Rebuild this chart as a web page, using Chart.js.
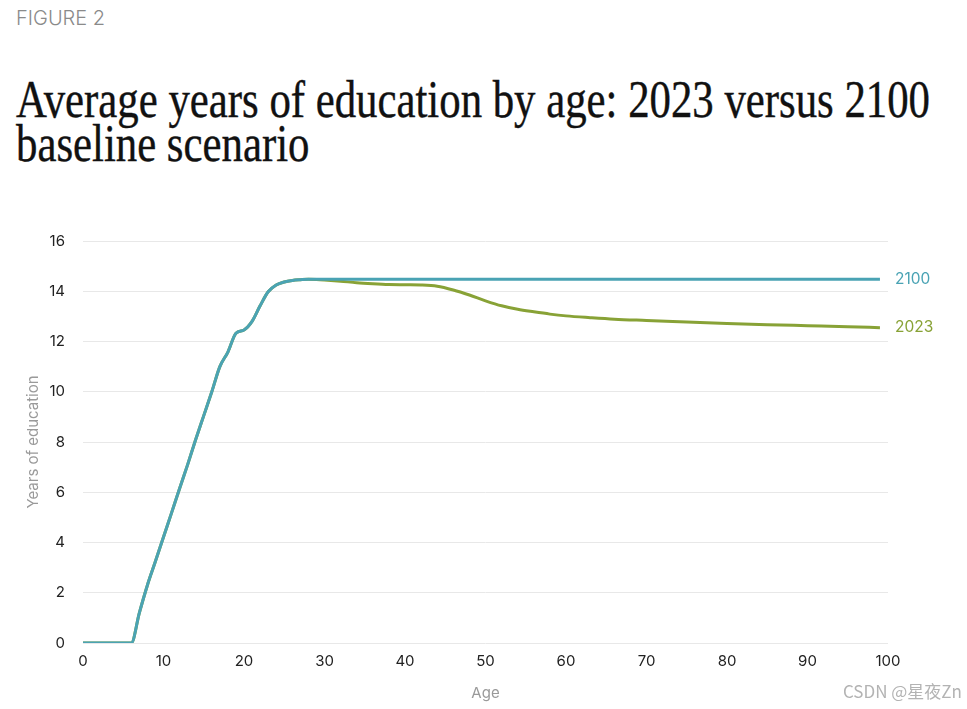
<!DOCTYPE html>
<html>
<head>
<meta charset="utf-8">
<script src="https://cdn.jsdelivr.net/npm/chart.js@4.4.1/dist/chart.umd.min.js"></script>
<style>
  html, body { margin: 0; padding: 0; background: #ffffff; }
  body { width: 967px; height: 709px; position: relative; overflow: hidden; }
  #fig { position: absolute; left: 16px; top: 6px; font-family: Inter, "Noto Sans", sans-serif; font-weight: 300; font-size: 20px; line-height: 24px; color: #8a8a8a; }
  #title { position: absolute; left: 16px; top: 78px; font-family: "Liberation Serif", "DejaVu Serif", serif; font-size: 52px; line-height: 44px; color: #111; white-space: nowrap; transform-origin: 0 0; -webkit-text-stroke: 0.4px #111; }
  #wrap { position: absolute; left: 0; top: 200px; width: 967px; height: 509px; }
  #wm { position: absolute; right: 5px; top: 680px; font-family: "Noto Sans CJK SC", "Noto Sans", sans-serif; font-size: 17px; line-height: 22px; color: #b3b3b3; }
</style>
</head>
<body>
<div id="fig">FIGURE 2</div>
<div id="title"><span id="t1">Average years of education by age: 2023 versus 2100</span><br><span>baseline scenario</span></div>
<div id="wrap"><canvas id="c"></canvas></div>
<div id="wm">CSDN @星夜Zn</div>
<script>
// ---- data ----
const ages = [0, 6, 7, 8, 9, 10, 11, 12, 13, 14, 15, 16, 17, 18, 19, 20, 21, 22, 23, 24, 25, 26, 27, 28, 29, 30, 32, 34, 36, 38, 40, 42, 44, 46, 48, 50, 52, 54, 56, 58, 60, 63, 66, 70, 75, 80, 85, 90, 95, 99];
const edu2100 = [0, 0, 1.2, 2.3, 3.25, 4.22, 5.18, 6.15, 7.1, 8.1, 9.05, 10.0, 11.0, 11.58, 12.33, 12.46, 12.8, 13.42, 13.98, 14.25, 14.37, 14.43, 14.46, 14.48, 14.48, 14.48, 14.48, 14.48, 14.48, 14.48, 14.48, 14.48, 14.48, 14.48, 14.48, 14.48, 14.48, 14.48, 14.48, 14.48, 14.48, 14.48, 14.48, 14.48, 14.48, 14.48, 14.48, 14.48, 14.48, 14.48];
const edu2023 = [0, 0, 1.2, 2.3, 3.25, 4.22, 5.18, 6.15, 7.1, 8.1, 9.05, 10.0, 11.0, 11.58, 12.33, 12.46, 12.8, 13.42, 13.98, 14.25, 14.37, 14.43, 14.46, 14.48, 14.47, 14.45, 14.40, 14.34, 14.30, 14.27, 14.26, 14.25, 14.20, 14.05, 13.85, 13.62, 13.42, 13.28, 13.18, 13.09, 13.02, 12.95, 12.89, 12.84, 12.78, 12.72, 12.67, 12.63, 12.59, 12.55];
const seriesNames = ["2100", "2023"];
const xTitle = "Age";
const yTitle = "Years of education";

// fit title width
(function(){
  const t1 = document.getElementById('t1');
  const w = t1.getBoundingClientRect().width;
  const s = 914 / w;
  document.getElementById('title').style.transform = 'scaleX(' + s + ')';
})();

const TEAL = '#4aa3b4';
const OLIVE = '#88a236';

const endLabels = {
  id: 'endLabels',
  afterDatasetsDraw(chart) {
    const ctx = chart.ctx;
    ctx.save();
    ctx.font = '400 15.5px Inter, "Noto Sans", sans-serif';
    ctx.textBaseline = 'middle';
    ctx.textAlign = 'left';
    chart.data.datasets.forEach((ds, i) => {
      const meta = chart.getDatasetMeta(i);
      const pt = meta.data[meta.data.length - 1];
      ctx.fillStyle = ds.borderColor;
      ctx.fillText(ds.label, pt.x + 15, pt.y);
    });
    ctx.restore();
  }
};

new Chart(document.getElementById('c'), {
  type: 'line',
  data: {
    datasets: [
      { label: seriesNames[0], data: ages.map((a, i) => ({x: a, y: edu2100[i]})), borderColor: TEAL, backgroundColor: TEAL, borderWidth: 3, pointRadius: 0, cubicInterpolationMode: 'monotone', fill: false },
      { label: seriesNames[1], data: ages.map((a, i) => ({x: a, y: edu2023[i]})), borderColor: OLIVE, backgroundColor: OLIVE, borderWidth: 3, pointRadius: 0, cubicInterpolationMode: 'monotone', fill: false }
    ]
  },
  options: {
    responsive: true,
    maintainAspectRatio: false,
    animation: false,
    events: [],
    layout: { padding: { top: 41, right: 79, left: 0, bottom: 0 } },
    plugins: { legend: { display: false }, tooltip: { enabled: false } },
    scales: {
      x: {
        type: 'linear', min: 0, max: 100,
        afterFit(s) { s.height = 66; },
        grid: { display: false, drawTicks: false },
        border: { display: false },
        ticks: { stepSize: 10, padding: 9, color: '#222', font: { family: 'Inter, "Noto Sans", sans-serif', size: 15 } },
        title: { display: true, text: xTitle, color: '#9a9a9a', padding: { top: 0, bottom: 7 }, font: { family: 'Inter, "Noto Sans", sans-serif', size: 15 } }
      },
      y: {
        min: 0, max: 16,
        afterFit(s) { s.width = 83; },
        grid: { color: '#e8e8e8', lineWidth: 1, drawTicks: false },
        border: { display: false },
        ticks: { stepSize: 2, padding: 18, color: '#222', font: { family: 'Inter, "Noto Sans", sans-serif', size: 15 } },
        title: { display: true, text: yTitle, color: '#9a9a9a', padding: { top: 24, bottom: 0 }, font: { family: 'Inter, "Noto Sans", sans-serif', size: 15 } }
      }
    }
  },
  plugins: [endLabels]
});
</script>
</body>
</html>
